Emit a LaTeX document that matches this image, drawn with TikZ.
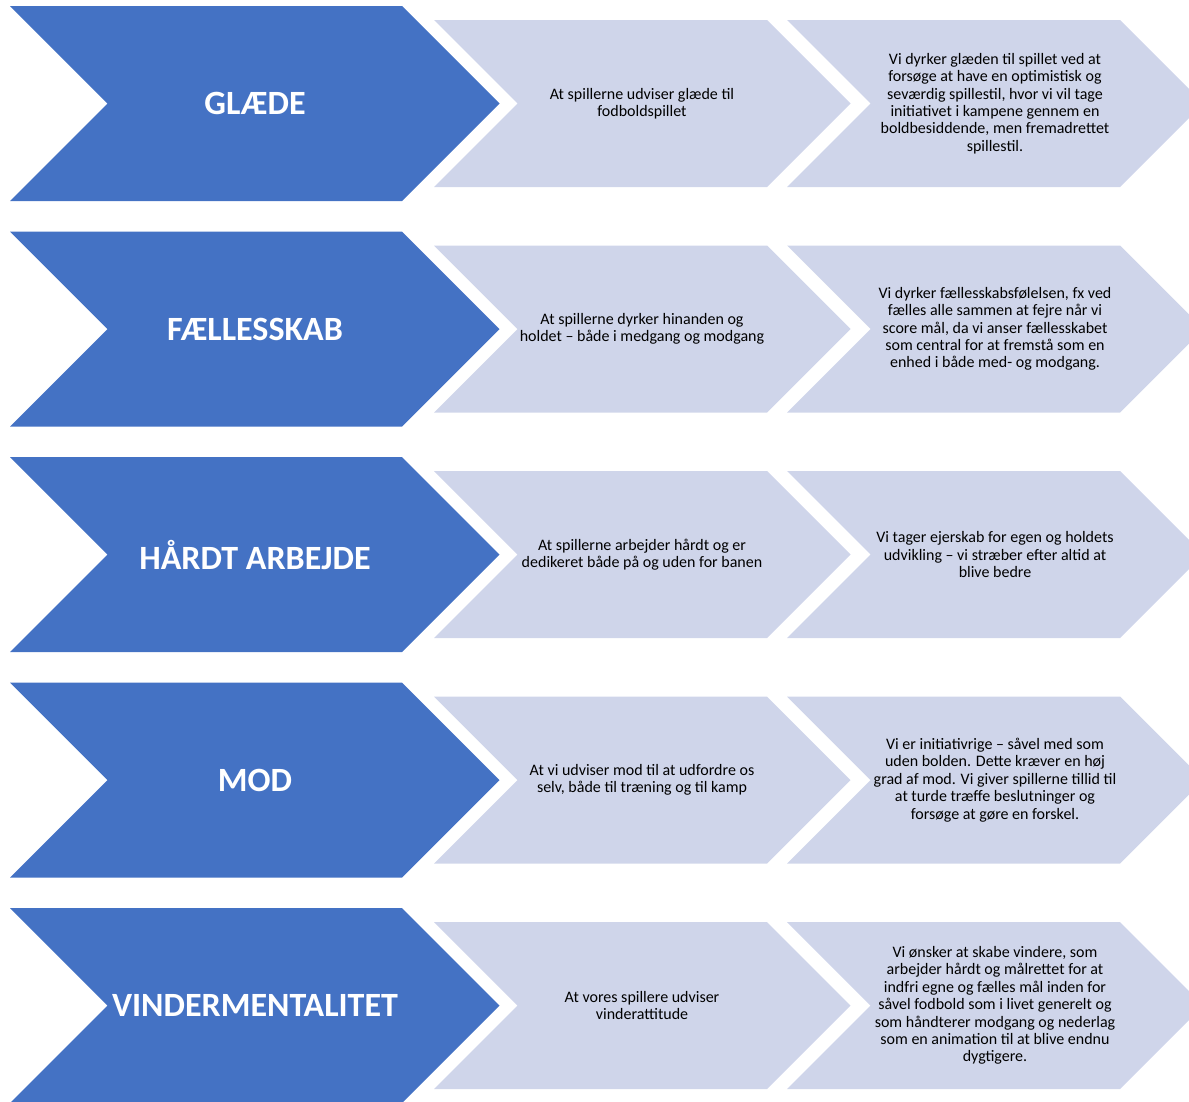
\documentclass[tikz,border=0pt]{standalone}
\usepackage{fontspec}
\setmainfont{Carlito}
\usepackage{tikz}
\definecolor{headblue}{HTML}{4472C4}
\definecolor{itemblue}{HTML}{CFD5EA}
\tikzset{
  value chart/.style={
    x=1pt, y=-1pt,
    head arrow/.style={fill=headblue},
    item arrow/.style={fill=itemblue},
    head label/.style={text=white,font={\fontsize{34}{40}\selectfont\bfseries},anchor=center},
    item label/.style={text=black,font={\fontsize{16}{17.4}\selectfont},align=center,anchor=center},
  }
}
% chevron: left x, top y, length of top edge, height
\newcommand{\chevron}[5][]{
    \path[#1] (#2,#3) -- ++(#4,0) -- ++({#5/2},{#5/2}) -- ++({-#5/2},{#5/2})
        -- ++(-#4,0) -- ++({#5/2},{-#5/2}) -- cycle;
}
% one row: index, head word, middle text, right text
\newcommand{\valuerow}[4]{
    \pgfmathsetmacro{\rowtop}{6+225.5*#1}
    \pgfmathsetmacro{\itemtop}{\rowtop+14}
    \pgfmathsetmacro{\rowmid}{\rowtop+97.5}
    \chevron[head arrow]{10}{\rowtop}{392}{195}
    \chevron[item arrow]{434}{\itemtop}{333}{167}
    \chevron[item arrow]{787}{\itemtop}{333}{167}
    \node[head label] (head#1) at (255,\rowmid) {#2};
    \node[item label] (mid#1) at (642,\rowmid) {#3};
    \node[item label] (txt#1) at (995,\rowmid) {#4};
}

\begin{document}
\begin{tikzpicture}[value chart]
    \useasboundingbox (0,0) rectangle (1189,1101);
    \clip (0,0) rectangle (1189,1101);
    \valuerow{0}{GLÆDE}
        {At spillerne udviser glæde til\\fodboldspillet}
        {Vi dyrker glæden til spillet ved at\\forsøge at have en optimistisk og\\seværdig spillestil, hvor vi vil tage\\initiativet i kampene gennem en\\boldbesiddende, men fremadrettet\\spillestil.}
    \valuerow{1}{FÆLLESSKAB}
        {At spillerne dyrker hinanden og\\holdet – både i medgang og modgang}
        {Vi dyrker fællesskabsfølelsen, fx ved\\fælles alle sammen at fejre når vi\\score mål, da vi anser fællesskabet\\som central for at fremstå som en\\enhed i både med- og modgang.}
    \valuerow{2}{HÅRDT ARBEJDE}
        {At spillerne arbejder hårdt og er\\dedikeret både på og uden for banen}
        {Vi tager ejerskab for egen og holdets\\udvikling – vi stræber efter altid at\\blive bedre}
    \valuerow{3}{MOD}
        {At vi udviser mod til at udfordre os\\selv, både til træning og til kamp}
        {Vi er initiativrige – såvel med som\\uden bolden. Dette kræver en høj\\grad af mod. Vi giver spillerne tillid til\\at turde træffe beslutninger og\\forsøge at gøre en forskel.}
    \valuerow{4}{VINDERMENTALITET}
        {At vores spillere udviser\\vinderattitude}
        {Vi ønsker at skabe vindere, som\\arbejder hårdt og målrettet for at\\indfri egne og fælles mål inden for\\såvel fodbold som i livet generelt og\\som håndterer modgang og nederlag\\som en animation til at blive endnu\\dygtigere.}
\end{tikzpicture}
\end{document}
